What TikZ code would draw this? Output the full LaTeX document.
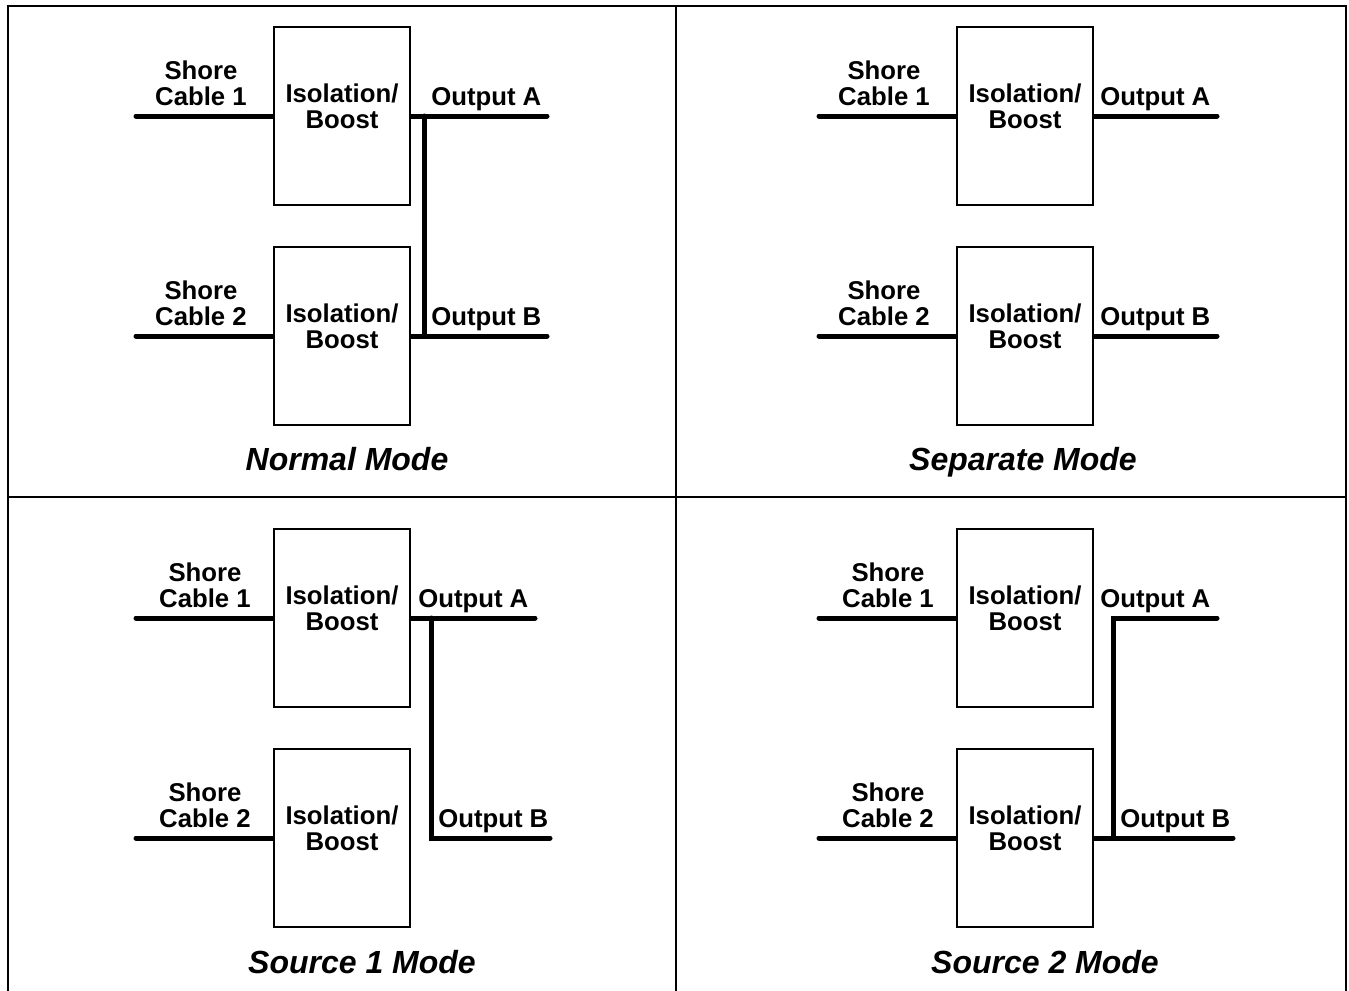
\documentclass[tikz,border=0pt]{standalone}
\usepackage{fontspec}
\setmainfont{Liberation Sans}
\usetikzlibrary{backgrounds}

\tikzset{
  unit/.style={draw, line width=1.5pt, fill=white, minimum width=102pt, minimum height=134pt, inner sep=0pt},
  cable/.style={line width=3.75pt, line cap=round},
  frame/.style={line width=1.1pt},
  lbl/.style={inner sep=0pt, align=center, font=\fontsize{19.3}{19.5}\selectfont\bfseries},
  modelbl/.style={inner sep=0pt, font=\fontsize{24}{28}\selectfont\bfseries\itshape}
}

\begin{document}
\begin{tikzpicture}[x=0.75pt,y=0.75pt,yscale=-1,xscale=1]
\useasboundingbox (0,0) rectangle (1349,990);

%Frame and dividers
\draw[frame] (8,995) -- (8,6) -- (1346,6) -- (1346,995);
\draw[frame] (676,6) -- (676,995);
\draw[frame] (8,497) -- (1346,497);

%%% Normal Mode
\coordinate (inN1) at (136,116);
\coordinate (inN2) at (136,336);
\coordinate (outN1) at (547,116);
\coordinate (outN2) at (547,336);
\coordinate (jN1) at (424,116);
\coordinate (jN2) at (424,336);
%Shape: Rectangle
\node[unit] (isoN1) at (342,116) {};
\node[unit] (isoN2) at (342,336) {};
% Text Node
\node[lbl, anchor=base] (isoN1txt) at (342,128) {Isolation/\\Boost};
\node[lbl, anchor=base] (isoN2txt) at (342,348) {Isolation/\\Boost};
\node[lbl, anchor=base] (shoreN1) at (201,105) {Shore\\Cable 1};
\node[lbl, anchor=base] (shoreN2) at (201,325) {Shore\\Cable 2};
\node[lbl, anchor=base west] (outAN) at (431,105) {Output A};
\node[lbl, anchor=base west] (outBN) at (431,325) {Output B};
\node[modelbl, anchor=base] (modeN) at (347,470) {Normal Mode};
%Straight Lines
\begin{scope}[on background layer]
\draw[cable] (inN1) -- (isoN1);
\draw[cable] (inN2) -- (isoN2);
\draw[cable] (isoN1) -- (outN1);
\draw[cable] (isoN2) -- (outN2);
\draw[cable] (jN1) -- (jN2);
\end{scope}

%%% Separate Mode
\coordinate (inS1) at (819,116);
\coordinate (inS2) at (819,336);
\coordinate (outS1) at (1217,116);
\coordinate (outS2) at (1217,336);
%Shape: Rectangle
\node[unit] (isoS1) at (1025,116) {};
\node[unit] (isoS2) at (1025,336) {};
% Text Node
\node[lbl, anchor=base] (isoS1txt) at (1025,128) {Isolation/\\Boost};
\node[lbl, anchor=base] (isoS2txt) at (1025,348) {Isolation/\\Boost};
\node[lbl, anchor=base] (shoreS1) at (884,105) {Shore\\Cable 1};
\node[lbl, anchor=base] (shoreS2) at (884,325) {Shore\\Cable 2};
\node[lbl, anchor=base west] (outAS) at (1100,105) {Output A};
\node[lbl, anchor=base west] (outBS) at (1100,325) {Output B};
\node[modelbl, anchor=base] (modeS) at (1023,470) {Separate Mode};
%Straight Lines
\begin{scope}[on background layer]
\draw[cable] (inS1) -- (isoS1);
\draw[cable] (inS2) -- (isoS2);
\draw[cable] (isoS1) -- (outS1);
\draw[cable] (isoS2) -- (outS2);
\end{scope}

%%% Source 1 Mode
\coordinate (inP1) at (136,618);
\coordinate (inP2) at (136,838);
\coordinate (outP1) at (535,618);
\coordinate (outP2) at (550,838);
\coordinate (jP1) at (431,618);
\coordinate (jP2) at (431,838);
%Shape: Rectangle
\node[unit] (isoP1) at (342,618) {};
\node[unit] (isoP2) at (342,838) {};
% Text Node
\node[lbl, anchor=base] (isoP1txt) at (342,630) {Isolation/\\Boost};
\node[lbl, anchor=base] (isoP2txt) at (342,850) {Isolation/\\Boost};
\node[lbl, anchor=base] (shoreP1) at (205,607) {Shore\\Cable 1};
\node[lbl, anchor=base] (shoreP2) at (205,827) {Shore\\Cable 2};
\node[lbl, anchor=base west] (outAP) at (418,607) {Output A};
\node[lbl, anchor=base west] (outBP) at (438,827) {Output B};
\node[modelbl, anchor=base] (modeP) at (362,973) {Source 1 Mode};
%Straight Lines
\begin{scope}[on background layer]
\draw[cable] (inP1) -- (isoP1);
\draw[cable] (inP2) -- (isoP2);
\draw[cable] (isoP1) -- (outP1);
\draw[cable] (jP1) -- (jP2) -- (outP2);
\end{scope}

%%% Source 2 Mode
\coordinate (inQ1) at (819,618);
\coordinate (inQ2) at (819,838);
\coordinate (outQ1) at (1217,618);
\coordinate (outQ2) at (1233,838);
\coordinate (jQ1) at (1113,618);
\coordinate (jQ2) at (1113,838);
%Shape: Rectangle
\node[unit] (isoQ1) at (1025,618) {};
\node[unit] (isoQ2) at (1025,838) {};
% Text Node
\node[lbl, anchor=base] (isoQ1txt) at (1025,630) {Isolation/\\Boost};
\node[lbl, anchor=base] (isoQ2txt) at (1025,850) {Isolation/\\Boost};
\node[lbl, anchor=base] (shoreQ1) at (888,607) {Shore\\Cable 1};
\node[lbl, anchor=base] (shoreQ2) at (888,827) {Shore\\Cable 2};
\node[lbl, anchor=base west] (outAQ) at (1100,607) {Output A};
\node[lbl, anchor=base west] (outBQ) at (1120,827) {Output B};
\node[modelbl, anchor=base] (modeQ) at (1045,973) {Source 2 Mode};
%Straight Lines
\begin{scope}[on background layer]
\draw[cable] (inQ1) -- (isoQ1);
\draw[cable] (inQ2) -- (isoQ2);
\draw[cable] (outQ1) -- (jQ1) -- (jQ2);
\draw[cable] (isoQ2) -- (outQ2);
\end{scope}

\end{tikzpicture}
\end{document}
